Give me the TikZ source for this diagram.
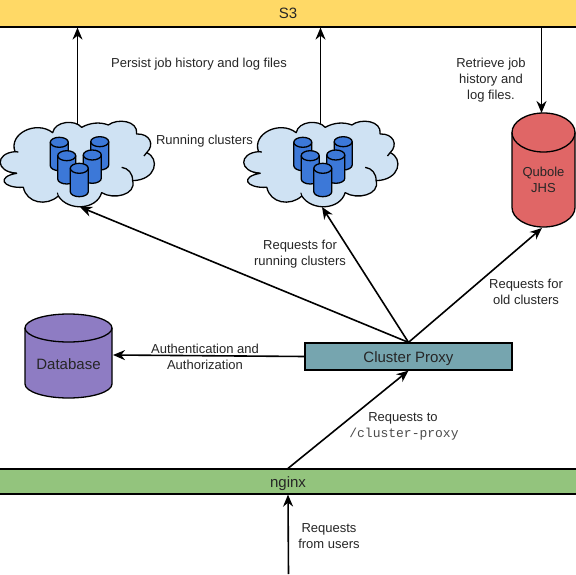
\documentclass[tikz,border=0pt]{standalone}
\usepackage{fontspec}
\setmainfont{Liberation Sans}
\setmonofont{Liberation Mono}
\usetikzlibrary{arrows.meta,calc}
\definecolor{sthree}{HTML}{FFD966}
\definecolor{ngx}{HTML}{93C47D}
\definecolor{prox}{HTML}{76A5AF}
\definecolor{dbc}{HTML}{8E7CC3}
\definecolor{jhs}{HTML}{E06666}
\definecolor{cloudc}{HTML}{CFE2F3}
\definecolor{cylc}{HTML}{3C78D8}
\newcommand{\cylshape}[6]{% cx, top, bottom, rx, ry, colour
  \fill[#6] ({#1-#4},{#2+#5}) arc[start angle=180,end angle=360,x radius=#4,y radius=#5] -- ({#1+#4},{#3-#5}) arc[start angle=0,end angle=180,x radius=#4,y radius=#5] -- cycle;
  \draw[line join=round] ({#1-#4},{#2+#5}) -- ({#1-#4},{#3-#5}) arc[start angle=180,end angle=0,x radius=#4,y radius=#5] -- ({#1+#4},{#2+#5});
  \draw ({#1},{#2+#5}) ellipse[x radius=#4,y radius=#5];
}
\newcommand{\cloudshape}[2]{%
  \begin{scope}[shift={(#1,#2)},x=0.3333pt,y=-0.3333pt,line width=1.3pt]
    \path[fill=cloudc,draw=black,line join=round]
      (45,185) .. controls (25,130) and (110,90) .. (158,128)
      .. controls (165,93) and (225,88) .. (245,112)
      .. controls (270,98) and (300,95) .. (325,105)
      .. controls (350,85) and (415,90) .. (410,132)
      .. controls (450,130) and (465,165) .. (440,188)
      .. controls (480,205) and (470,270) .. (398,272)
      .. controls (410,315) and (340,330) .. (305,308)
      .. controls (290,360) and (205,365) .. (175,318)
      .. controls (140,350) and (80,340) .. (70,292)
      .. controls (5,295) and (-10,260) .. (50,250)
      .. controls (-15,245) and (-15,190) .. (45,185) -- cycle;
    \draw (365,232) .. controls (385,235) and (398,250) .. (398,272);
    \draw (440,188) -- (432,198);
    \draw (45,185) -- (55,186);
    \draw (50,250) -- (30,247);
    \draw[line width=1pt] (175,318) -- (172,308);
  \end{scope}
  \begin{scope}[shift={(#1,#2)},line width=1.3pt]
    \cylshape{59.3}{47.3}{80.7}{9}{5}{cylc}
    \cylshape{99.7}{46.7}{80}{9}{5}{cylc}
    \cylshape{66.7}{60.7}{94}{9}{5}{cylc}
    \cylshape{92.3}{60}{93.3}{9}{5}{cylc}
    \cylshape{79.3}{73.3}{106.7}{9}{5}{cylc}
  \end{scope}
}
\tikzset{
  x=1pt,y=-1pt,
  box/.style={draw=black,line width=1.2pt,minimum height=0pt,inner sep=0pt,text=black},
  lab/.style={font=\fontsize{13}{16}\selectfont,align=center,inner sep=0pt,text=black!85},
  big/.style={font=\fontsize{15}{16}\selectfont,text=black!85,text height=14pt,text depth=3pt},
  conn/.style={draw=black,line width=1.6pt,-{Stealth[length=12pt,width=10pt]}}
}
\begin{document}
\begin{tikzpicture}
\useasboundingbox (0,0) rectangle (576,575);
\fill[white] (0,0) rectangle (576,575);
\node[box,fill=sthree,minimum width=578pt,minimum height=28pt,big] (s3) at (288,13) {S3};
\node[box,fill=ngx,minimum width=578pt,minimum height=25pt,big] (nginx) at (288,481.5) {nginx};
\node[box,fill=prox,minimum width=207pt,minimum height=27pt,big] (proxy) at (408.5,356.5) {Cluster Proxy};
\cloudshape{0}{90}
\cloudshape{243.5}{90}
\begin{scope}[line width=1.3pt]
\cylshape{543.5}{113}{227}{31.5}{19.5}{jhs}
\cylshape{68.5}{314}{398}{43.5}{14}{dbc}
\end{scope}
\node[inner sep=0pt,lab] (dbtext) at (68.5,364) {\fontsize{15}{16}\selectfont Database};
\node[lab] (jhstext) at (543.5,179.5) {Qubole\\JHS};
\coordinate (c1top) at (77.5,124);
\coordinate (c2top) at (320.5,124);
\coordinate (c1bot) at (80,207);
\coordinate (c2bot) at (322,207);
\coordinate (jhstop) at (541.5,113);
\coordinate (jhsbot) at (542,228);
\coordinate (dbright) at (113,355);
\coordinate (users) at (288.5,574);
\draw[conn] (c1top) -- (c1top |- s3.south);
\draw[conn] (c2top) -- (c2top |- s3.south);
\draw[conn] (jhstop |- s3.south) -- (jhstop);
\draw[conn] (proxy.north) -- (c1bot);
\draw[conn] (proxy.north) -- (c2bot);
\draw[conn] (proxy.north) -- (jhsbot);
\draw[conn] (proxy.west) -- (dbright);
\draw[conn] (nginx.north) -- (proxy.south);
\draw[conn] (users) -- (nginx.south);
\node[lab] (t1) at (199,64) {Persist job history and log files};
\node[lab] (t2) at (204.5,141) {Running clusters};
\node[lab] (t3) at (491,80) {Retrieve job\\history and\\log files.};
\node[lab] (t4) at (300,254.5) {Requests for\\running clusters};
\node[lab] (t5) at (526,292) {Requests for\\old clusters};
\node[lab] (t6) at (205,357) {Authentication and\\Authorization};
\node[lab] (t7) at (403,418) {Requests to};
\node[lab,font=\ttfamily\fontsize{13}{14}\selectfont,text=black!70] (t8) at (404,434.5) {/cluster-proxy};
\node[lab] (t9) at (329,536) {Requests\\from users};
\end{tikzpicture}
\end{document}
